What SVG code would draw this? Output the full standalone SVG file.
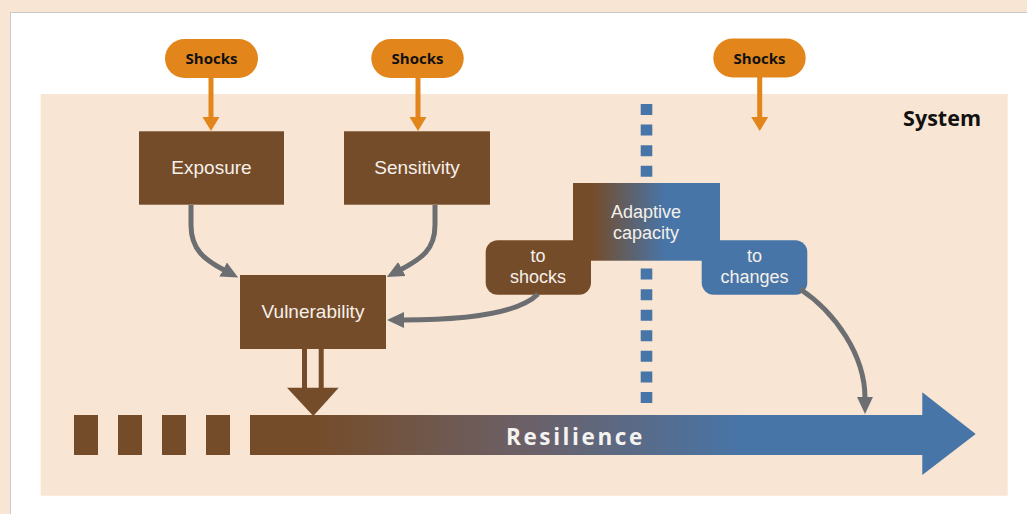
<svg xmlns="http://www.w3.org/2000/svg" width="1027" height="514" viewBox="0 0 1027 514">
<style>
.box{fill:#754C29}
.lbl{font-family:"Liberation Sans",Arial,sans-serif;font-size:18px;fill:#F5F0EA;text-anchor:middle}
.big{font-size:19px}
.shk{font-family:"Open Sans","Noto Sans",sans-serif;font-size:15px;font-weight:bold;fill:#111;text-anchor:middle}
.pill{fill:#E2861C}
.oline{stroke:#E2861C;stroke-width:5;fill:none}
.conn{stroke:#6D6E71;stroke-width:5;fill:none;marker-end:url(#gh)}
</style>
<defs>
<marker id="gh" markerUnits="userSpaceOnUse" markerWidth="20" markerHeight="20" viewBox="0 -10 20 20" refX="1" refY="0" orient="auto">
<path d="M0,-8 L17,0 L0,8 Z" fill="#6D6E71"/>
</marker>
<linearGradient id="gAd" gradientUnits="userSpaceOnUse" x1="592" y1="0" x2="665" y2="0">
<stop offset="0" stop-color="#754C29"/><stop offset="1" stop-color="#4775A8"/>
</linearGradient>
<linearGradient id="gRes" gradientUnits="userSpaceOnUse" x1="312" y1="0" x2="745" y2="0">
<stop offset="0" stop-color="#754C29"/><stop offset="0.5" stop-color="#6B6068"/><stop offset="1" stop-color="#4775A8"/>
</linearGradient>
</defs>
<rect x="0" y="0" width="1027" height="514" fill="#F8E5D3"/>
<rect x="10.5" y="12.5" width="1030" height="520" fill="#FFFFFF" stroke="#C9CACC" stroke-width="1"/>
<rect x="40.7" y="94" width="967" height="401.7" fill="#F8E5D3"/>
<text x="981" y="126" font-family="'Open Sans','Noto Sans',sans-serif" font-size="21.5" font-weight="bold" fill="#111" text-anchor="end">System</text>

<g id="dotted-line">
<line x1="646.5" y1="104" x2="646.5" y2="403.3" stroke="#4775A8" stroke-width="11.6" stroke-dasharray="11 9.57"/>
</g>

<g id="shocks1">
<rect class="pill" x="165" y="39" width="93" height="39" rx="19.5"/>
<text class="shk" x="211.5" y="64">Shocks</text>
<line class="oline" x1="211" y1="77" x2="211" y2="118"/>
<path d="M202.5,117 L219.5,117 L211,131 Z" fill="#E2861C"/>
</g>
<g id="shocks2">
<rect class="pill" x="371.3" y="39" width="92.4" height="39" rx="19.5"/>
<text class="shk" x="417.5" y="64">Shocks</text>
<line class="oline" x1="418" y1="77" x2="418" y2="118"/>
<path d="M409.5,117 L426.5,117 L418,131 Z" fill="#E2861C"/>
</g>
<g id="shocks3">
<rect class="pill" x="713.3" y="38.5" width="92.4" height="39" rx="19.5"/>
<text class="shk" x="759.5" y="63.5">Shocks</text>
<line class="oline" x1="759.7" y1="77" x2="759.7" y2="118"/>
<path d="M751.2,117 L768.2,117 L759.7,131 Z" fill="#E2861C"/>
</g>

<g id="exposure">
<rect class="box" x="139" y="131.3" width="145" height="73.4"/>
<text class="lbl big" x="211.5" y="174">Exposure</text>
</g>
<g id="sensitivity">
<rect class="box" x="344" y="131.3" width="146" height="73.4"/>
<text class="lbl big" x="417" y="174">Sensitivity</text>
</g>
<g id="vulnerability">
<rect class="box" x="240" y="275" width="146" height="74"/>
<text class="lbl big" x="313" y="318">Vulnerability</text>
</g>

<g id="adaptive-capacity">
<rect x="573" y="183" width="147" height="77.7" fill="url(#gAd)"/>
<text class="lbl" x="646" y="218"><tspan x="646">Adaptive</tspan><tspan x="646" dy="21">capacity</tspan></text>
</g>
<g id="to-shocks">
<rect class="box" x="485.7" y="240.3" width="105.3" height="54.4" rx="12"/>
<text class="lbl" x="538" y="261.5"><tspan x="538">to</tspan><tspan x="538" dy="21">shocks</tspan></text>
</g>
<g id="to-changes">
<rect x="701.7" y="240.3" width="105.6" height="54.4" rx="12" fill="#4775A8"/>
<text class="lbl" x="754.5" y="261.5"><tspan x="754.5">to</tspan><tspan x="754.5" dy="21">changes</tspan></text>
</g>

<g id="resilience">
<rect class="box" x="74" y="415" width="24" height="40"/>
<rect class="box" x="118" y="415" width="24" height="40"/>
<rect class="box" x="162" y="415" width="24" height="40"/>
<rect class="box" x="206" y="415" width="24" height="40"/>
<path d="M250,415 H922.3 V392.3 L975.7,434 L922.3,475 V455 H250 Z" fill="url(#gRes)"/>
<text x="506" y="445" font-family="'Open Sans','Noto Sans',sans-serif" font-size="22.5" font-weight="bold" fill="#F5F3F0" letter-spacing="2.6">Resilience</text>
</g>

<g id="connectors">
<path class="conn" d="M191,205 V225 C191,250 205,260 224,270"/>
<path class="conn" d="M435,205 V225 C435,250 421,259 401,269.5"/>
<path class="conn" d="M538,294 C522,310 480,320 403,320"/>
<path class="conn" d="M800,289 C835,312 865,355 865,398"/>
<g id="vuln-to-resilience" fill="#754C29">
<rect x="302" y="349" width="5" height="40"/>
<rect x="318.7" y="349" width="5" height="40"/>
<path d="M287,387.7 L338.7,387.7 L313.3,416 Z"/>
</g>
</g>
</svg>
